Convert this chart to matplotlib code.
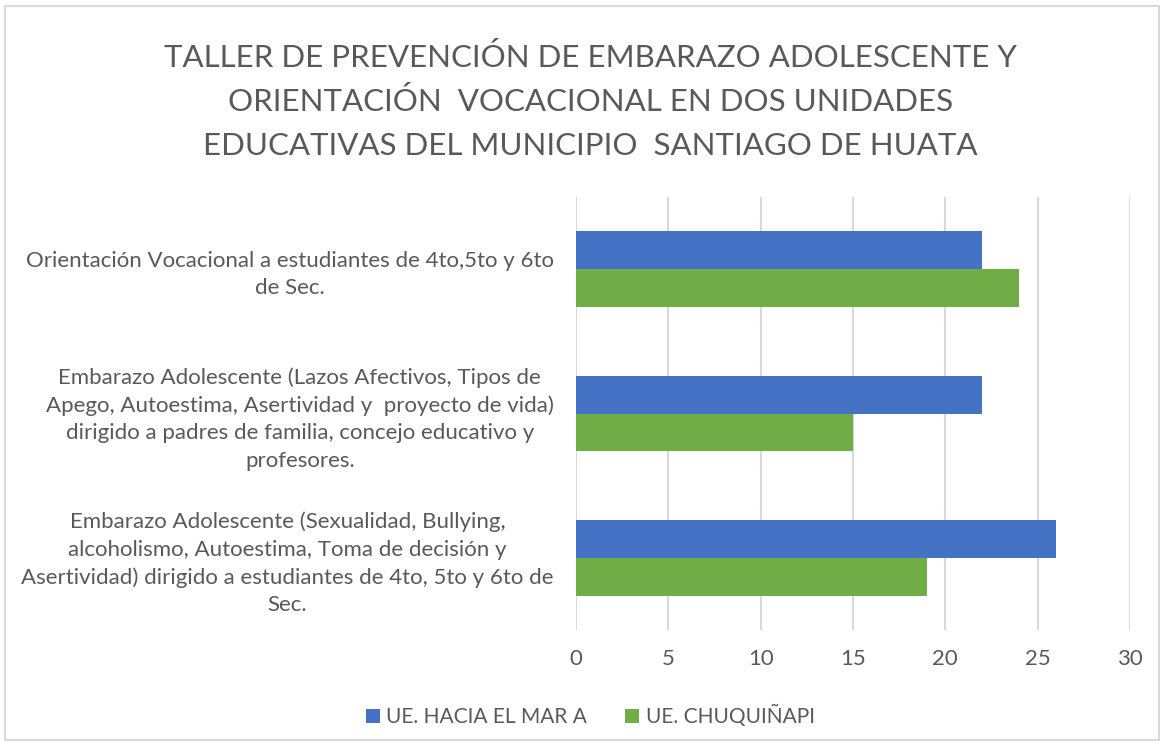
import numpy as np
import matplotlib
matplotlib.use("Agg")
import matplotlib.pyplot as plt
from matplotlib.patches import Rectangle

plt.rcParams['font.family'] = ['Lato', 'DejaVu Sans']

# Data (bottom to top, as drawn)
categories = [
    "Embarazo Adolescente (Sexualidad, Bullying,\nalcoholismo, Autoestima, Toma de decisión y\n"
    "Asertividad) dirigido a estudiantes de 4to, 5to y 6to de\nSec.",
    "Embarazo Adolescente (Lazos Afectivos, Tipos de\nApego, Autoestima, Asertividad y  proyecto de vida)\n"
    "dirigido a padres de familia, concejo educativo y\nprofesores.",
    "Orientación Vocacional a estudiantes de 4to,5to y 6to\nde Sec.",
]
series_names = ["UE. HACIA EL MAR A", "UE. CHUQUIÑAPI"]
hacia_el_mar = [26, 22, 22]
chuquinapi = [19, 15, 24]
x_ticks = [0, 5, 10, 15, 20, 25, 30]

title = ("TALLER DE PREVENCIÓN DE EMBARAZO ADOLESCENTE Y\n"
         "ORIENTACIÓN  VOCACIONAL EN DOS UNIDADES\n"
         "EDUCATIVAS DEL MUNICIPIO  SANTIAGO DE HUATA")

text_color = '#595959'
blue = '#4472C4'
green = '#70AD47'

fig = plt.figure(figsize=(11.64, 7.46), dpi=100)
fig.patches.append(Rectangle((5 / 1164, 6 / 746), 1154 / 1164, 734 / 746,
                             transform=fig.transFigure, fill=False,
                             edgecolor='#d9d9d9', linewidth=1.5))

ax = fig.add_axes([576 / 1164, 116 / 746, 554 / 1164, 433 / 746])

y = np.arange(len(categories))
h = 0.263
ax.barh(y + h / 2, hacia_el_mar, height=h, color=blue, label=series_names[0], zorder=3)
ax.barh(y - h / 2, chuquinapi, height=h, color=green, label=series_names[1], zorder=3)

ax.set_xlim(0, 30)
ax.set_ylim(-0.5, 2.5)
ax.set_xticks(x_ticks)
ax.set_xticklabels([str(t) for t in x_ticks])
ax.set_yticks(y)
ax.set_yticklabels(categories, multialignment='center', linespacing=1.45)
ax.tick_params(axis='both', length=0, labelsize=16, colors=text_color)
ax.tick_params(axis='x', pad=14)
ax.tick_params(axis='y', pad=16)
ax.grid(axis='x', color='#d9d9d9', linewidth=1.5, zorder=0)
for s in ax.spines.values():
    s.set_visible(False)

fig.text(0.507, 0.943, title, ha='center', va='top', fontsize=22.5,
         color=text_color, linespacing=1.66)

leg = fig.legend(loc='center', bbox_to_anchor=(0.507, 0.04), ncol=2, frameon=False,
                 fontsize=15, handlelength=0.7, handleheight=0.7,
                 handletextpad=0.3, columnspacing=1.8)
for t in leg.get_texts():
    t.set_color(text_color)

fig.savefig('out.png', dpi=100)
